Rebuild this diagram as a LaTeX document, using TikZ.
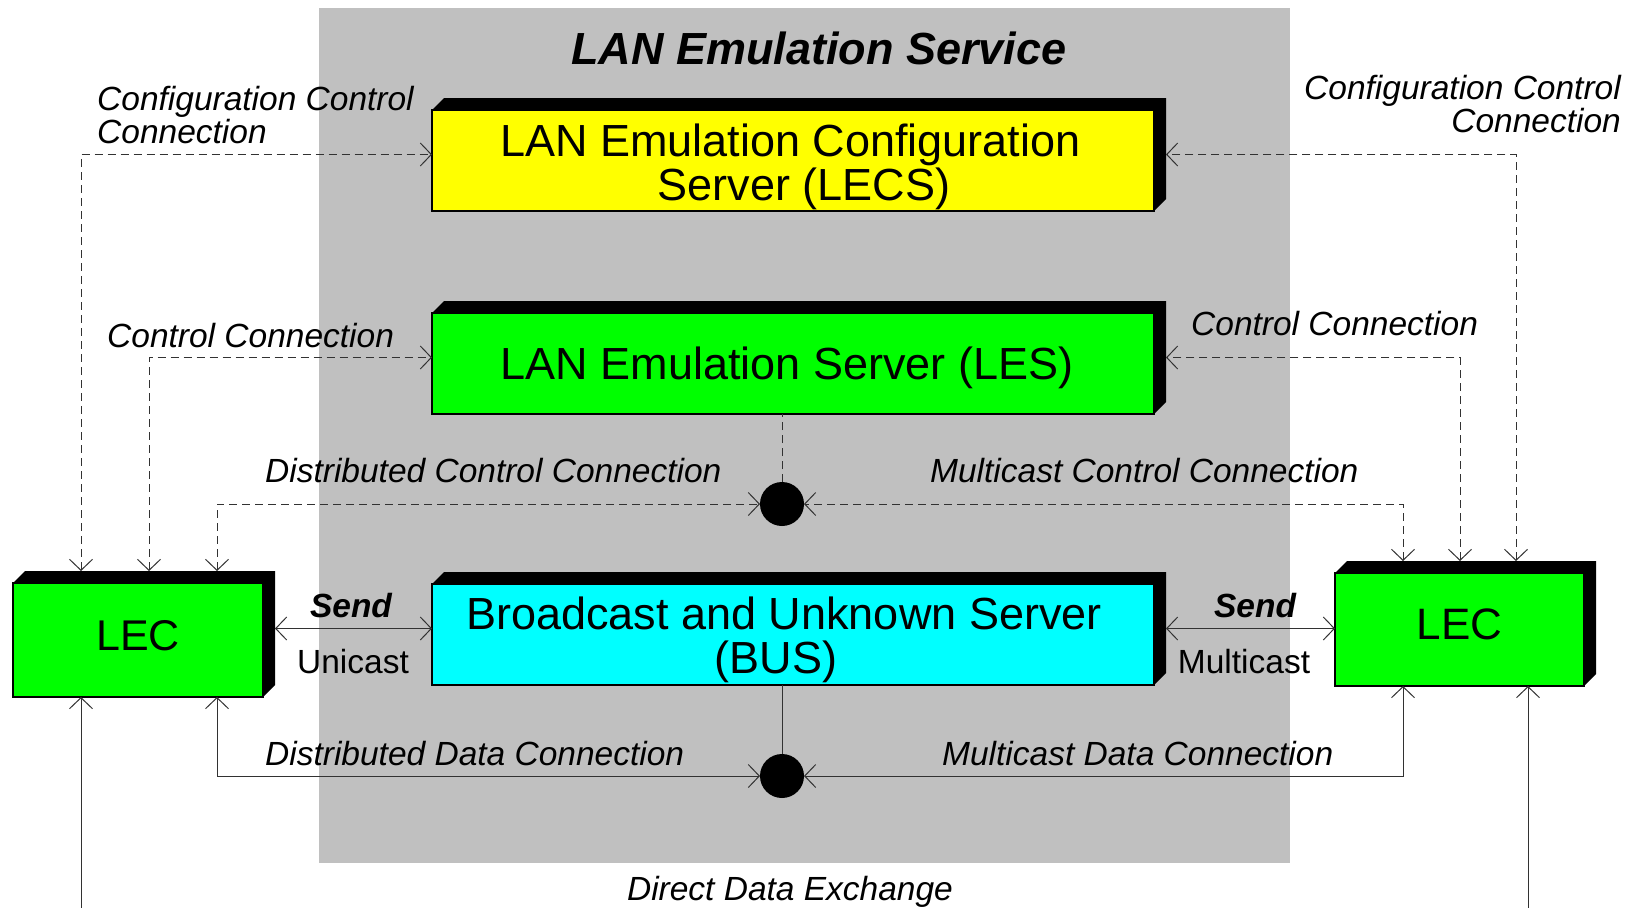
\documentclass[tikz,border=0pt]{standalone}
\usepackage{fontspec}
\setmainfont{Liberation Sans}
\usetikzlibrary{arrows.meta}
\pgfdeclarelayer{back}
\pgfdeclarelayer{shade}
\pgfsetlayers{back,shade,main}
\definecolor{svcgray}{RGB}{192,192,192}
\definecolor{lecsyellow}{RGB}{255,255,0}
\definecolor{nodegreen}{RGB}{0,255,0}
\definecolor{buscyan}{RGB}{0,255,255}
\definecolor{linegray}{RGB}{50,50,50}
\newcommand\extrudebox[1]{%
  \fill[black] (#1.north west) -- ([shift={(12,-12)}]#1.north west) --
    ([shift={(12,-12)}]#1.north east) -- ([shift={(12,-12)}]#1.south east) --
    (#1.south east) -- (#1.north east) -- cycle;}
\tikzset{
  face/.style={draw=black, line width=1.5pt, outer sep=0pt, inner sep=0pt, align=center,
    font=\fontsize{45}{44}\selectfont},
  srvbox/.style={face, minimum width=722pt, minimum height=101pt},
  conn/.style={line width=1pt, draw=linegray},
  dconn/.style={conn, dash pattern=on 8pt off 5pt},
  lbl/.style={font=\fontsize{33.5}{33.5}\selectfont\itshape, inner sep=0pt},
  plainlbl/.style={font=\fontsize{33.5}{33.5}\selectfont, inner sep=0pt},
  boldlbl/.style={font=\fontsize{33.5}{33.5}\selectfont\bfseries\itshape, inner sep=0pt},
  junction/.style={circle, fill=black, minimum size=44pt, inner sep=0pt, outer sep=0pt},
}
\begin{document}
\begin{tikzpicture}[x=1pt,y=-1pt,>={Straight Barb[length=11pt,width=23pt]}]
\useasboundingbox (0,0) rectangle (1634,908);
\begin{pgfonlayer}{back}
  \fill[white] (0,0) rectangle (1634,908);
  \node[fill=svcgray, minimum width=971pt, minimum height=855pt, inner sep=0pt,
    outer sep=0pt, anchor=north west] (svc) at (319,8) {};
\end{pgfonlayer}

\node[anchor=base, inner sep=0pt, font=\fontsize{45}{45}\selectfont\bfseries\itshape]
  (title) at (819,64) {LAN Emulation Service};

% boxes
\node[srvbox, fill=lecsyellow, text height=79pt, text depth=0pt] (lecs) at (793,160.5)
  {LAN Emulation Configuration\hspace*{5pt}\\\hspace*{22pt}Server (LECS)};
\node[srvbox, fill=nodegreen, text depth=0pt] (les) at (793,363.5)
  {LAN Emulation Server (LES)\hspace*{12pt}};
\node[srvbox, fill=buscyan, text height=77pt, text depth=0pt] (bus) at (793,634.5)
  {Broadcast and Unknown Server\hspace*{18pt}\\(BUS)\hspace*{34pt}};
\node[face, fill=nodegreen, minimum width=250pt, minimum height=114pt, text depth=10pt,
  font=\fontsize{43}{43}\selectfont] (lecL) at (138,640) {LEC};
\node[face, fill=nodegreen, minimum width=249pt, minimum height=113pt, text depth=10pt,
  font=\fontsize{44}{44}\selectfont] (lecR) at (1459.5,629.5) {LEC};

\begin{pgfonlayer}{shade}
  \extrudebox{lecs}
  \extrudebox{les}
  \extrudebox{bus}
  \extrudebox{lecL}
  \extrudebox{lecR}
\end{pgfonlayer}

% junctions
\node[junction] (dctl) at (782,504) {};
\node[junction] (ddat) at (782,776) {};

% named points
\coordinate (lecsW) at ([shift={(0,-6)}]lecs.west);
\coordinate (lecsE) at ([shift={(12,-6)}]lecs.east);
\coordinate (lesW) at ([shift={(0,-6)}]les.west);
\coordinate (lesE) at ([shift={(12,-6)}]les.east);
\coordinate (busW) at ([shift={(0,-6)}]bus.west);
\coordinate (busE) at ([shift={(12,-6)}]bus.east);
\coordinate (lecLE) at ([shift={(12,0)}]lecL.east);
\coordinate (botL) at (81,908);
\coordinate (botR) at (1528,908);

% configuration control connections
\draw[dconn,<->] ([shift={(68,-12)}]lecL.north west) |- (lecsW);
\draw[dconn,<->] ([shift={(181,-12)}]lecR.north west) |- (lecsE);
% control connections
\draw[dconn,<->] ([shift={(136,-12)}]lecL.north west) |- (lesW);
\draw[dconn,<->] ([shift={(125,-12)}]lecR.north west) |- (lesE);
% distributed / multicast control
\draw[dconn] (dctl.north) -- (dctl.north |- les.south);
\draw[dconn,<->] ([shift={(204,-12)}]lecL.north west) |- (dctl.west);
\draw[dconn,<->] ([shift={(68,-12)}]lecR.north west) |- (dctl.east);
% send
\draw[conn,<->] (lecLE |- busW) -- (busW);
\draw[conn,<->] (busE) -- (lecR.west |- busE);
% data connections
\draw[conn] (ddat.north) -- (ddat.north |- bus.south);
\draw[conn,<->] (ddat.west) -| ([shift={(204,0)}]lecL.south west);
\draw[conn,<->] (ddat.east) -| ([shift={(68,0)}]lecR.south west);
% direct data exchange
\draw[conn,->] (botL) -- ([shift={(68,0)}]lecL.south west);
\draw[conn,->] (botR) -- ([shift={(193,0)}]lecR.south west);

% labels
\node[lbl, align=left, anchor=north west] (cfgL) at (97,86) {Configuration Control\\Connection};
\node[lbl, align=right, anchor=north east] (cfgR) at (1621,75) {Configuration Control\\Connection};
\node[lbl, anchor=base west] (ctlL) at (107,347) {Control Connection};
\node[lbl, anchor=base west] (ctlR) at (1191,335) {Control Connection};
\node[lbl, anchor=base west] (dcc) at (265,482) {Distributed Control Connection};
\node[lbl, anchor=base west] (mcc) at (930,482) {Multicast Control Connection};
\node[lbl, anchor=base west] (ddc) at (265,765) {Distributed Data Connection};
\node[lbl, anchor=base west] (mdc) at (942,765) {Multicast Data Connection};
\node[boldlbl, anchor=base] (sendL) at (351,617) {Send};
\node[plainlbl, anchor=base] (uni) at (353,673) {Unicast};
\node[boldlbl, anchor=base] (sendR) at (1255,617) {Send};
\node[plainlbl, anchor=base] (multi) at (1244,673) {Multicast};
\node[lbl, anchor=base] (dde) at (790,900) {Direct Data Exchange};
\end{tikzpicture}
\end{document}
